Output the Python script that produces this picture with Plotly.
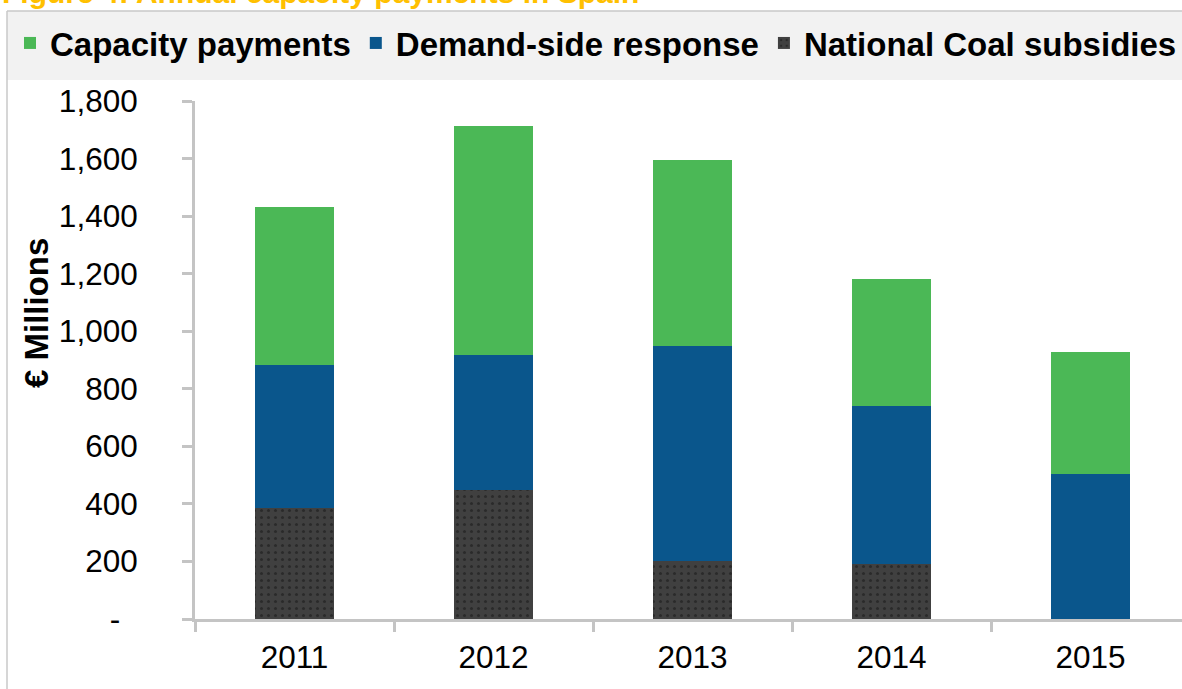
import plotly.graph_objects as go

years = ["2011", "2012", "2013", "2014", "2015"]
coal = [385, 448, 200, 190, 0]
demand = [498, 470, 750, 550, 504]
capacity = [548, 795, 645, 441, 424]

ytickvals = [0, 200, 400, 600, 800, 1000, 1200, 1400, 1600, 1800]
yticktext = ["-\u00a0\u00a0", "200", "400", "600", "800", "1,000", "1,200", "1,400", "1,600", "1,800"]

W, H = 1182, 689
L, R, T, B = 195, 0, 101, 70
pw, ph = W - L - R, H - T - B


def px(x):
    return (x - L) / pw


def py(y):
    return (H - B - y) / ph


FONT = "Arial, 'Liberation Sans', sans-serif"
AXC = "#c4c4c4"

fig = go.Figure()
fig.add_trace(go.Bar(
    x=years, y=coal, name="National Coal subsidies",
    marker=dict(color="#404040", line=dict(width=0),
                pattern=dict(shape=".", fgcolor="#141414", bgcolor="#404040",
                             size=7, solidity=0.15)),
))
fig.add_trace(go.Bar(
    x=years, y=demand, name="Demand-side response",
    marker=dict(color="#0A568C", line=dict(width=0)),
))
fig.add_trace(go.Bar(
    x=years, y=capacity, name="Capacity payments",
    marker=dict(color="#4BB856", line=dict(width=0)),
))

fig.update_layout(
    width=W, height=H,
    margin=dict(l=L, r=R, t=T, b=B, pad=0),
    barmode="stack", bargap=0.603,
    paper_bgcolor="white", plot_bgcolor="white",
    font=dict(family=FONT, color="black", size=31.5),
    showlegend=True,
    legend=dict(
        orientation="h", traceorder="reversed",
        x=px(14), xanchor="left", y=py(43), yanchor="middle",
        font=dict(family=FONT, size=33, color="black", weight="bold"),
        bgcolor="rgba(0,0,0,0)", borderwidth=0,
        itemclick=False,
    ),
    xaxis=dict(
        type="category", range=[-0.5, -0.5 + pw / 199.0],
        showline=True, linecolor=AXC, linewidth=3,
        ticks="outside", tickson="boundaries", ticklen=10, tickwidth=3, tickcolor=AXC,
        showgrid=False, zeroline=False,
        tickfont=dict(family=FONT, size=31.5, color="black"),
        ticklabelstandoff=8,
    ),
    yaxis=dict(
        range=[0, 1800],
        tickvals=ytickvals, ticktext=yticktext,
        showline=True, linecolor=AXC, linewidth=3,
        ticks="outside", ticklen=10, tickwidth=3, tickcolor=AXC,
        showgrid=False, zeroline=False,
        tickfont=dict(family=FONT, size=31.5, color="black"),
        ticklabelstandoff=38,
    ),
    shapes=[
        dict(type="rect", xref="paper", yref="paper", x0=px(7), x1=1.05, y0=py(80), y1=py(11),
             fillcolor="#f2f2f2", line=dict(width=0), layer="below"),
        dict(type="line", xref="paper", yref="paper", x0=px(7), x1=1.05, y0=py(11), y1=py(11),
             line=dict(color="#c8c8c8", width=1.5), layer="below"),
        dict(type="line", xref="paper", yref="paper", x0=px(7), x1=px(7), y0=py(11), y1=py(700),
             line=dict(color="#c8c8c8", width=1.5), layer="below"),
    ],
    annotations=[
        dict(text="Figure 4: Annual capacity payments in Spain", xref="paper", yref="paper",
             x=px(0), y=py(-7), xanchor="left", yanchor="middle", showarrow=False,
             font=dict(family=FONT, size=30, color="#FFC000", weight="bold")),
        dict(text="€ Millions", xref="paper", yref="paper", textangle=-90,
             x=px(36), y=py(313), xanchor="center", yanchor="middle", showarrow=False,
             font=dict(family=FONT, size=33, color="black", weight="bold")),
    ],
)

fig.write_html("out.html")
